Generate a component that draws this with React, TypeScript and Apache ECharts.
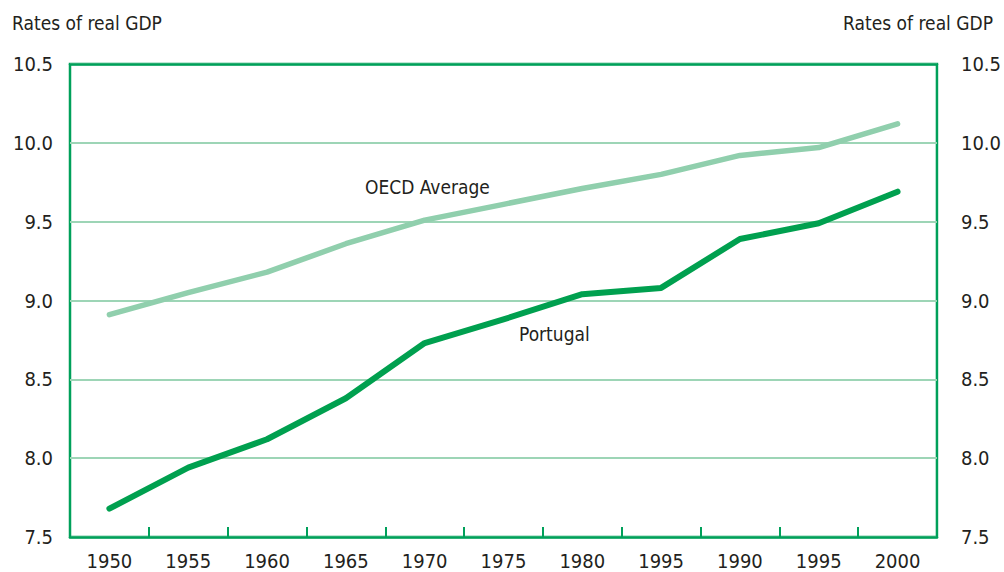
import React, { useEffect, useRef } from "react";
import * as echarts from "echarts";

const categories = ["1950", "1955", "1960", "1965", "1970", "1975", "1980", "1995", "1990", "1995", "2000"];
const oecdValues = [8.91, 9.05, 9.18, 9.36, 9.51, 9.61, 9.71, 9.80, 9.92, 9.97, 10.12];
const portugalValues = [7.68, 7.94, 8.12, 8.38, 8.73, 8.88, 9.04, 9.08, 9.39, 9.49, 9.69];
const yTitle = "Rates of real GDP";

const FONT = "'Liberation Sans Narrow', 'DejaVu Sans Condensed', 'Roboto', sans-serif";
const TEXT = "#231f20";
const FRAME = "#00a05a";
const GRID = "#9dd5b6";
const DARK = "#00a04f";
const LIGHT = "#90cfad";

export default function App() {
  const ref = useRef<HTMLDivElement>(null);
  useEffect(() => {
    document.body.style.margin = "0";
    const chart = echarts.init(ref.current!, null, { renderer: "svg" });
    const yLabel = { fontFamily: FONT, fontSize: 20, color: TEXT, formatter: (v: number) => v.toFixed(1) };
    chart.setOption({
      animation: false,
      grid: { left: 70, right: 65, top: 64, bottom: 35, show: true, borderColor: FRAME, borderWidth: 2.5, backgroundColor: "transparent" },
      xAxis: [
        {
          type: "category",
          data: categories,
          boundaryGap: true,
          z: 3,
          axisLine: { show: true, lineStyle: { color: FRAME, width: 2.5 } },
          axisTick: { show: true, inside: true, length: 10, lineStyle: { color: FRAME, width: 2 } },
          axisLabel: { fontFamily: FONT, fontSize: 20, color: TEXT, margin: 14 },
          splitLine: { show: false },
        },
        {
          type: "category",
          data: categories,
          position: "top",
          z: 3,
          axisLine: { show: true, lineStyle: { color: FRAME, width: 2.5 } },
          axisTick: { show: false },
          axisLabel: { show: false },
          splitLine: { show: false },
        },
      ],
      yAxis: [
        {
          type: "value", min: 7.5, max: 10.5, interval: 0.5, position: "left",
          axisLine: { show: false }, axisTick: { show: false },
          axisLabel: { ...yLabel, margin: 17 },
          splitLine: { show: true, lineStyle: { color: GRID, width: 2 } },
        },
        {
          type: "value", min: 7.5, max: 10.5, interval: 0.5, position: "right",
          axisLine: { show: false }, axisTick: { show: false },
          axisLabel: { ...yLabel, margin: 24 },
          splitLine: { show: false },
        },
      ],
      series: [
        {
          name: "OECD Average", type: "line", data: oecdValues, symbol: "none",
          lineStyle: { color: LIGHT, width: 5.5, cap: "round", join: "round" },
        },
        {
          name: "Portugal", type: "line", data: portugalValues, symbol: "none",
          lineStyle: { color: DARK, width: 6, cap: "round", join: "round" },
        },
      ],
      graphic: [
        { type: "text", left: 12, top: 13, style: { text: yTitle, fontFamily: FONT, fontSize: 19, fill: TEXT } },
        { type: "text", right: 11, top: 13, style: { text: yTitle, fontFamily: FONT, fontSize: 19, fill: TEXT } },
        { type: "text", left: 365, top: 177, style: { text: "OECD Average", fontFamily: FONT, fontSize: 19, fill: TEXT } },
        { type: "text", left: 519, top: 324, style: { text: "Portugal", fontFamily: FONT, fontSize: 19, fill: TEXT } },
      ],
    });
    return () => chart.dispose();
  }, []);
  return <div ref={ref} style={{ width: 1004, height: 572 }} />;
}
